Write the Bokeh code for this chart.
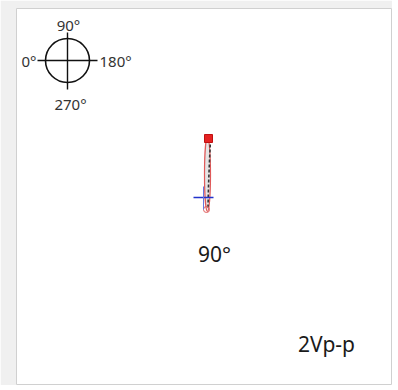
from bokeh.plotting import figure
from bokeh.models import Range1d, ColumnDataSource
from bokeh.core.properties import value
from bokeh.embed import file_html
from bokeh.resources import INLINE

# ---- data ----
phase_deg = 90
amplitude_label = "2Vp-p"
compass_labels = ["90°", "0°", "180°", "270°"]
compass_label_x = [68, 36, 99, 70]
compass_label_y = [24, 60, 60, 103]
compass_align = ["center", "right", "left", "center"]
compass_center = (67, 60)
compass_radius = 22

# Lissajous trace (screen-like units)
trace_center = (207, 174)
trace_w = 6
trace_h = 74
dash_x = [210, 209, 208, 207.5]
dash_y = [139, 160, 185, 207]
start_pt = (208, 138)
end_pt = (206, 209)
cursor_pt = (203, 197)

FONT = value("Noto Sans")

p = figure(width=392, height=385, output_backend="svg", toolbar_location=None,
           x_range=Range1d(16, 392), y_range=Range1d(385, 8),
           min_border_left=16, min_border_right=0, min_border_top=8, min_border_bottom=0)
p.axis.visible = False
p.grid.visible = False
p.background_fill_color = "white"
p.border_fill_color = "#f0f0f0"
p.outline_line_color = "#d0d0d0"
p.outline_line_width = 1

# compass icon
cx, cy = compass_center
p.circle(x=[cx], y=[cy], radius=compass_radius, fill_color=None, line_color="#111111", line_width=1.6)
p.segment(x0=[cx - 30, cx], y0=[cy, cy - 28], x1=[cx + 30, cx], y1=[cy, cy + 29],
          line_color="#111111", line_width=1.4)
src = ColumnDataSource(dict(x=compass_label_x, y=compass_label_y, t=compass_labels, a=compass_align))
p.text(x="x", y="y", text="t", text_align="a", text_baseline="middle", source=src,
       text_font=FONT, text_font_size="15px", text_color="#333333")

# trace
tx, ty = trace_center
p.ellipse(x=[tx], y=[ty], width=trace_w, height=trace_h, fill_color="#cccccc", fill_alpha=0.5,
          line_color="#e05a5a", line_width=1.2)
p.line(x=dash_x, y=dash_y, line_color="#333333", line_width=1.6, line_dash="3 2")
p.scatter(x=[start_pt[0]], y=[start_pt[1]], marker="square", size=8,
          fill_color="#e52222", line_color="#c01010")
p.scatter(x=[end_pt[0]], y=[end_pt[1]], marker="circle", size=6,
          fill_color=None, line_color="#e06060", line_width=1)
p.segment(x0=[cursor_pt[0] - 10], y0=[cursor_pt[1]], x1=[cursor_pt[0] + 10], y1=[cursor_pt[1]],
          line_color="#2233cc", line_width=1.5)
p.segment(x0=[cursor_pt[0]], y0=[cursor_pt[1] - 11], x1=[cursor_pt[0]], y1=[cursor_pt[1] + 12],
          line_color="#6677dd", line_width=1)

# labels
p.text(x=[214], y=[253], text=[f"{phase_deg}°"], text_align="center", text_baseline="middle",
       text_font=FONT, text_font_size="21px", text_color="#1a1a1a")
p.text(x=[326], y=[343], text=[amplitude_label], text_align="center", text_baseline="middle",
       text_font=FONT, text_font_size="21px", text_color="#1a1a1a")

open("out.html", "w").write(file_html(p, INLINE))
